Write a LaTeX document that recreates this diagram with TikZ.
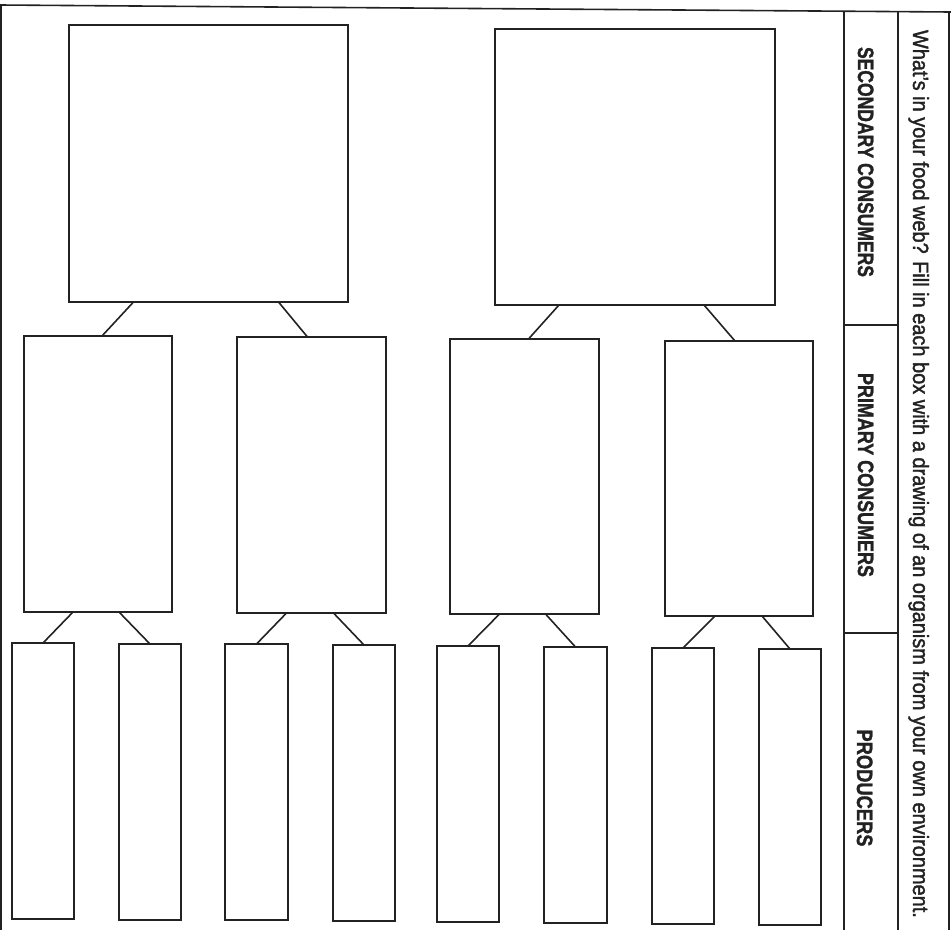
\documentclass[tikz,border=0pt]{standalone}
\usepackage{graphicx}
\usepackage{fontspec}
\setmainfont{Liberation Sans}
\newfontfamily\titlefont[FakeBold=1.8]{Liberation Sans}
\newfontfamily\labelfont[BoldFeatures={FakeBold=1.6}]{Liberation Sans}
\usetikzlibrary{calc}
\definecolor{ink}{HTML}{222222}
\tikzset{
  box/.style={draw=ink, line width=1.7pt, fill=white, inner sep=0pt, outer sep=0pt, anchor=north west},
  link/.style={draw=ink, line width=1.6pt},
  frame/.style={draw=ink, line width=1.6pt},
  lbl/.style={rotate=-90, anchor=base, inner sep=0pt, text=ink}
}
\begin{document}
\begin{tikzpicture}[x=1pt,y=-1pt]
\useasboundingbox (0,0) rectangle (951,930);
% frame
\draw[frame] (0,5) -- (951,12);
\draw[frame] (1,5) -- (1,930);
\draw[frame] (844,11) -- (844,930);
\draw[frame] (898,11.5) -- (898,930);
\draw[frame] (949,12) -- (949,930);
\draw[frame] (844,325) -- (898,325);
\draw[frame] (844,633) -- (898,633);
% labels
\node[lbl] (title) at (913,474) {\resizebox{888pt}{16pt}{\titlefont What’s in your food web? Fill in each box with a drawing of an organism from your own environment.}};
\node[lbl] (sec) at (858,162) {\resizebox{230pt}{15.5pt}{\labelfont\bfseries SECONDARY CONSUMERS}};
\node[lbl] (pri) at (858,475) {\resizebox{204pt}{15.5pt}{\labelfont\bfseries PRIMARY CONSUMERS}};
\node[lbl] (pro) at (857,788) {\resizebox{117pt}{15.5pt}{\labelfont\bfseries PRODUCERS}};
% secondary consumers
\node[box, minimum width=279pt, minimum height=277pt] (A) at (69,25) {};
\node[box, minimum width=280pt, minimum height=276pt] (B) at (495,29) {};
% primary consumers
\node[box, minimum width=148pt, minimum height=276pt] (P1) at (24,336) {};
\node[box, minimum width=149pt, minimum height=276pt] (P2) at (237,337) {};
\node[box, minimum width=149pt, minimum height=275pt] (P3) at (450,339) {};
\node[box, minimum width=148pt, minimum height=275pt] (P4) at (665,341) {};
% producers
\node[box, minimum width=62pt, minimum height=276pt] (Q1) at (12,643) {};
\node[box, minimum width=62pt, minimum height=276pt] (Q2) at (119,644) {};
\node[box, minimum width=63pt, minimum height=276pt] (Q3) at (225,644) {};
\node[box, minimum width=62pt, minimum height=276pt] (Q4) at (333,645) {};
\node[box, minimum width=62pt, minimum height=276pt] (Q5) at (437,646) {};
\node[box, minimum width=63pt, minimum height=276pt] (Q6) at (544,647) {};
\node[box, minimum width=62pt, minimum height=276pt] (Q7) at (652,648) {};
\node[box, minimum width=62pt, minimum height=276pt] (Q8) at (759,649) {};
% connectors secondary -> primary
\draw[link] ($(A.south)+(-75,0)$) -- ($(P1.north)+(4,0)$);
\draw[link] ($(A.south)+(70,0)$) -- ($(P2.north)+(-4,0)$);
\draw[link] ($(B.south)+(-76,0)$) -- ($(P3.north)+(4,0)$);
\draw[link] ($(B.south)+(69,0)$) -- ($(P4.north)+(-4,0)$);
% connectors primary -> producers
\draw[link] ($(P1.south)+(-25,0)$) -- (Q1.north);
\draw[link] ($(P1.south)+(21,0)$) -- (Q2.north);
\draw[link] ($(P2.south)+(-25,0)$) -- (Q3.north);
\draw[link] ($(P2.south)+(22,0)$) -- (Q4.north);
\draw[link] ($(P3.south)+(-25,0)$) -- (Q5.north);
\draw[link] ($(P3.south)+(21,0)$) -- (Q6.north);
\draw[link] ($(P4.south)+(-24,0)$) -- (Q7.north);
\draw[link] ($(P4.south)+(23,0)$) -- (Q8.north);
\end{tikzpicture}
\end{document}
